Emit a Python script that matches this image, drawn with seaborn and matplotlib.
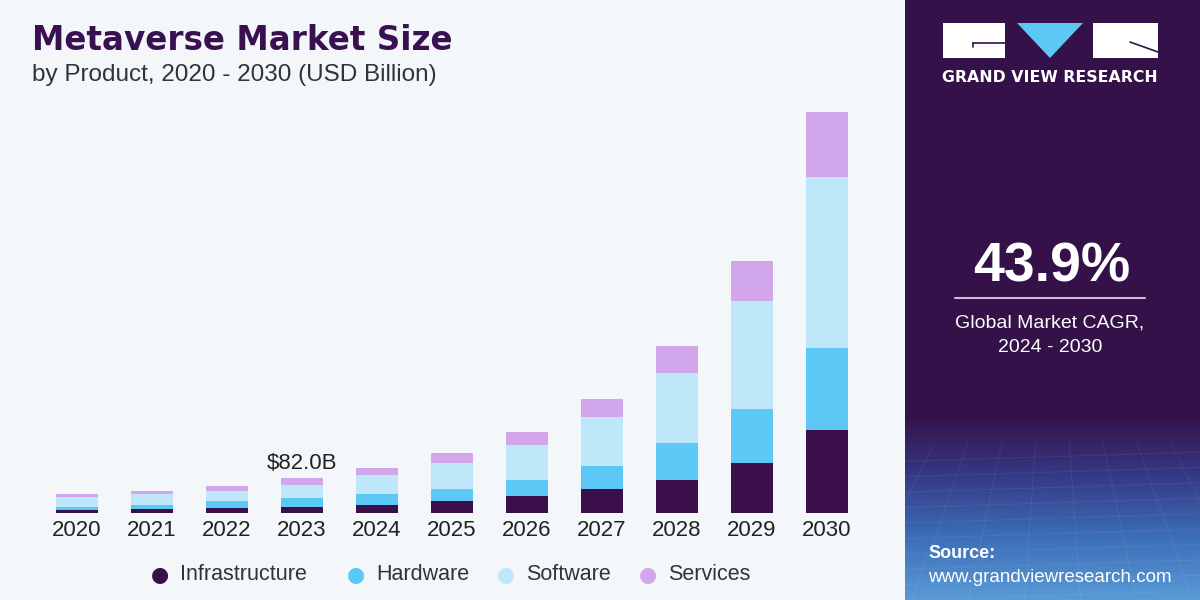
import numpy as np
import pandas as pd
import matplotlib
matplotlib.use("Agg")
import matplotlib.pyplot as plt
from matplotlib.patches import Rectangle, Polygon
from matplotlib.colors import LinearSegmentedColormap
import seaborn as sns

years = ["2020", "2021", "2022", "2023", "2024", "2025", "2026", "2027", "2028", "2029", "2030"]
infrastructure = [7.0, 9.4, 11.7, 14.1, 18.7, 28.1, 39.8, 56.2, 77.3, 118.3, 194.5]
hardware = [7.0, 9.4, 16.4, 21.1, 25.8, 28.1, 37.5, 53.9, 86.7, 126.5, 192.1]
software = [23.4, 25.8, 23.4, 30.4, 44.5, 60.9, 82.0, 114.8, 164.0, 253.0, 400.7]
services = [7.0, 7.0, 11.7, 16.4, 16.4, 23.4, 30.5, 42.2, 63.3, 93.7, 152.3]
segments = ["Infrastructure", "Hardware", "Software", "Services"]
colors = ["#3a0f4a", "#5bc8f5", "#bee8f9", "#d2a6ea"]
annotation_year = "2023"
annotation_text = "$82.0B"
cagr_text = "43.9%"

sns.set_theme(style="white")
plt.rcParams['font.family'] = ['Liberation Sans', 'DejaVu Sans']

BG = "#f3f7fa"
PANEL = "#341148"

fig = plt.figure(figsize=(12, 6), dpi=100)
fig.patch.set_facecolor(BG)

# Right dark panel (background axes)
pax = fig.add_axes([905/1200, 0, 295/1200, 1], zorder=-2)
pax.set_facecolor(PANEL)
pax.set_xticks([]); pax.set_yticks([])
for s in pax.spines.values():
    s.set_visible(False)

# gradient at bottom of panel
gax = fig.add_axes([905/1200, 0, 295/1200, 185/600], zorder=-1)
grad = np.linspace(0, 1, 256).reshape(-1, 1)
cmap = LinearSegmentedColormap.from_list("g", [PANEL, "#363a86", "#3d6fb8", "#5a9ad6"])
gax.imshow(np.flipud(grad), aspect="auto", cmap=cmap, extent=[0, 1, 0, 1], origin="lower")
for k in np.linspace(-1.5, 2.5, 22):
    gax.plot([k, k * 0.6 + 0.2], [0, 0.85], color="white", alpha=0.06, lw=0.8)
for yv in np.linspace(0.0, 0.75, 10):
    gax.plot([0, 1], [yv, yv + 0.05], color="white", alpha=0.06, lw=0.8)
gax.set_xlim(0, 1); gax.set_ylim(0, 1)
gax.axis("off")

# Main bar axes
ax = fig.add_axes([20.75/1200, 87/600, 862.5/1200, 426.8/600])
ax.set_facecolor(BG)
df = pd.DataFrame({"year": years, "Infrastructure": infrastructure, "Hardware": hardware,
                   "Software": software, "Services": services})
cum = df[segments].cumsum(axis=1)
cum["year"] = years
for seg, col in reversed(list(zip(segments, colors))):
    sns.barplot(data=cum, x="year", y=seg, color=col, width=0.57,
                ax=ax, saturation=1, edgecolor="none", order=years)
ax.set_xlim(-0.75, 10.75)
ax.set_ylim(0, 1000)
ax.set_xlabel(""); ax.set_ylabel("")
ax.set_yticks([])
ax.tick_params(axis="x", length=0, labelsize=16, colors="#222222", pad=5)
for s in ax.spines.values():
    s.set_visible(False)

i = years.index(annotation_year)
ax.text(i, cum["Services"][i] + 10, annotation_text, ha="center", va="bottom",
        fontsize=16, color="#222222")

# Title
fig.text(32/1200, 1 - 40/600, "Metaverse Market Size", fontsize=23.5, fontweight="bold",
         color="#3a1150", family=["DejaVu Sans"], va="center", ha="left")
fig.text(32/1200, 1 - 75/600, "by Product, 2020 - 2030 (USD Billion)", fontsize=17.5,
         color="#333333", va="center", ha="left")

# Legend
lx = [160, 356, 506, 648]
for (x, seg, col) in zip(lx, segments, colors):
    fig.text(x/1200, 1 - 575/600, "\u25CF", color=col, fontsize=15, ha="center", va="center",
             family=["DejaVu Sans"])
    fig.text((x + 20)/1200, 1 - 575/600, seg, fontsize=15.5, color="#333333", ha="left", va="center")

# Overlay for logo / panel text
lax = fig.add_axes([0, 0, 1, 1], facecolor="none", zorder=5)
lax.set_xlim(0, 1200); lax.set_ylim(600, 0)
lax.axis("off")
lax.add_patch(Rectangle((943, 23), 62, 35, facecolor="white", edgecolor="none"))
lax.add_patch(Polygon([(1017, 23), (1083, 23), (1050, 58)], facecolor="#5bc8f5", edgecolor="none"))
lax.add_patch(Rectangle((1093, 23), 65, 35, facecolor="white", edgecolor="none"))
lax.plot([973, 1005], [43, 43], color=PANEL, lw=1.2)
lax.plot([973, 973], [43, 47], color=PANEL, lw=1.2)
lax.plot([1130, 1158], [42, 52], color=PANEL, lw=1.2)
lax.text(1050, 77, "GRAND VIEW RESEARCH", color="white", fontsize=11.3, fontweight="bold",
         ha="center", va="center", family=["DejaVu Sans"])

# CAGR
lax.text(1052, 268, cagr_text, color="white", fontsize=40, fontweight="bold", ha="center", va="center")
lax.plot([955, 1145], [298, 298], color="#c9bcd6", lw=1.5)
lax.text(1050, 323, "Global Market CAGR,", color="white", fontsize=14, ha="center", va="center")
lax.text(1050, 347, "2024 - 2030", color="white", fontsize=14, ha="center", va="center")

# Source
lax.text(928, 553, "Source:", color="white", fontsize=13, fontweight="bold", ha="left", va="center")
lax.text(928, 577, "www.grandviewresearch.com", color="white", fontsize=13.5, ha="left", va="center")

fig.savefig("out.png", dpi=100, facecolor=fig.get_facecolor())
